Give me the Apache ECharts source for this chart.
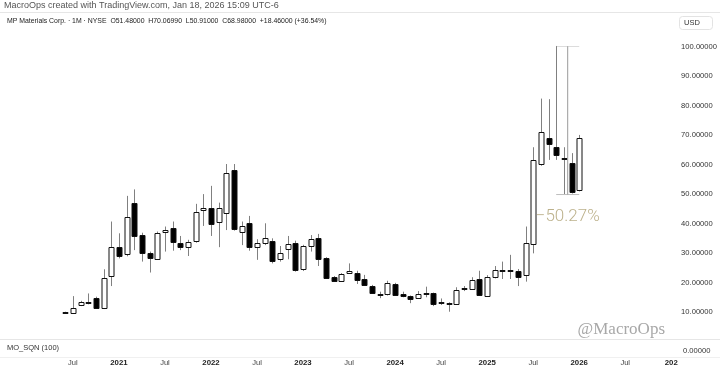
<!DOCTYPE html>
<html><head><meta charset="utf-8">
<script src="https://cdn.jsdelivr.net/npm/echarts@6/dist/echarts.min.js"></script>
<style>html,body{margin:0;padding:0;background:#fff}#c{width:720px;height:373px}</style>
</head><body><div id="c"></div>
<script>
// ---- axis categories (monthly) ----
const categories = [];
for (let y = 2019; y <= 2027; y++) {
  for (let m = 1; m <= 12; m++) {
    const key = y + '-' + String(m).padStart(2, '0');
    if (key >= '2019-10' && key <= '2027-01') categories.push(key);
  }
}
const firstLabelMonth = '2020-07';
// ---- monthly OHLC ----
const candleMonths = ['2020-06','2020-07','2020-08','2020-09','2020-10','2020-11','2020-12',
 '2021-01','2021-02','2021-03','2021-04','2021-05','2021-06','2021-07','2021-08','2021-09','2021-10','2021-11','2021-12',
 '2022-01','2022-02','2022-03','2022-04','2022-05','2022-06','2022-07','2022-08','2022-09','2022-10','2022-11','2022-12',
 '2023-01','2023-02','2023-03','2023-04','2023-05','2023-06','2023-07','2023-08','2023-09','2023-10','2023-11','2023-12',
 '2024-01','2024-02','2024-03','2024-04','2024-05','2024-06','2024-07','2024-08','2024-09','2024-10','2024-11','2024-12',
 '2025-01','2025-02','2025-03','2025-04','2025-05','2025-06','2025-07','2025-08','2025-09','2025-10','2025-11','2025-12',
 '2026-01'];
const openP  = [9.95, 9.9, 12.4, 13.2, 14.7, 11.3, 22.0,
 32.0, 29.7, 46.9, 36.1, 29.9, 28.1, 37.2, 38.4, 33.5, 32.2, 33.9, 44.8,
 45.4, 40.7, 43.7, 58.2, 37.4, 40.1, 32.0, 33.3, 34.1, 27.7, 31.3, 33.3,
 24.5, 32.4, 35.2, 28.4, 21.8, 20.6, 23.1, 23.4, 21.2, 18.9, 16.0, 15.8,
 19.5, 16.0, 15.4, 14.8, 16.2, 16.4, 13.2, 13.1, 12.7, 17.9, 18.0, 21.1,
 15.5, 22.0, 24.2, 24.3, 23.8, 22.6, 33.1, 60.2, 69.0, 65.9, 62.0, 60.5,
 51.48];
const highP  = [10.1, 15.4, 13.8, 16.3, 15.2, 24.5, 40.7,
 36.7, 49.4, 51.6, 36.9, 30.5, 37.3, 39.0, 40.7, 35.8, 34.5, 46.7, 50.0,
 52.8, 47.1, 60.2, 60.2, 40.7, 42.6, 34.7, 40.1, 35.0, 32.4, 35.8, 34.2,
 32.8, 36.1, 36.5, 28.6, 22.2, 23.2, 26.5, 24.0, 22.6, 19.2, 16.9, 20.6,
 19.9, 16.9, 15.6, 17.1, 18.6, 16.6, 14.6, 13.3, 18.4, 18.8, 21.8, 24.0,
 22.5, 25.6, 27.1, 29.4, 24.6, 39.0, 65.9, 82.4, 82.2, 100.25, 65.9, 63.9,
 70.0699];
const lowP   = [9.8, 9.8, 12.0, 12.6, 11.3, 11.0, 18.8,
 28.2, 28.9, 31.0, 27.1, 23.4, 27.8, 30.5, 30.8, 31.0, 29.0, 33.5, 39.2,
 35.8, 32.0, 37.8, 37.6, 32.7, 30.8, 27.7, 32.7, 26.5, 27.1, 27.9, 23.7,
 23.9, 30.5, 25.6, 21.4, 20.3, 20.4, 22.9, 19.5, 18.9, 16.2, 14.7, 15.6,
 15.6, 15.0, 13.0, 14.6, 15.0, 12.0, 12.4, 10.1, 12.5, 17.1, 17.8, 15.5,
 15.3, 21.4, 21.2, 21.2, 18.8, 20.3, 29.9, 59.6, 61.6, 61.6, 49.85, 50.2,
 50.91];
const closeP = [10.0, 11.5, 13.5, 13.4, 11.3, 21.4, 32.0,
 29.0, 42.1, 35.8, 29.9, 28.1, 36.9, 37.8, 33.5, 32.2, 33.9, 43.8, 45.4,
 39.9, 45.4, 57.3, 38.1, 39.3, 32.0, 33.5, 35.0, 27.4, 29.9, 33.1, 24.3,
 32.4, 34.8, 28.2, 21.6, 20.6, 22.9, 23.9, 21.1, 19.1, 16.4, 16.1, 19.7,
 15.8, 15.2, 14.5, 16.0, 16.4, 12.7, 13.4, 13.0, 17.5, 18.1, 20.9, 15.6,
 22.0, 24.3, 24.4, 24.4, 21.8, 33.3, 61.6, 71.2, 67.0, 63.1, 62.3, 50.5,
 68.98];
// ---- price-range drawing (Oct-2025 high to Nov-2025 low) ----
const rangeFrom = '2025-10', rangeTo = '2026-01';
const rangeHigh = 100.25, rangeLow = 49.85;
const rangeLabel = '\u221250.27%';
const rangeLabelPrice = 42.4;
// ---- tick labels ----
const yTicks = [0, 10, 20, 30, 40, 50, 60, 70, 80, 90, 100];

const idx = m => categories.indexOf(m);
const ohlc = candleMonths.map((m, i) => [idx(m), openP[i], closeP[i], lowP[i], highP[i]]);
const iFrom = idx(rangeFrom), iTo = idx(rangeTo);
const iMid = (idx('2025-11') + idx('2025-12')) / 2;

const chart = echarts.init(document.getElementById('c'), null, {renderer: 'canvas'});
const lineStyle = {color: '#9a9a9a', width: 1};
chart.setOption({
  animation: false,
  backgroundColor: '#fff',
  textStyle: {fontFamily: 'Liberation Sans, Arial, sans-serif'},
  grid: {left: 0, right: 43, top: 46.7, bottom: 31.5, containLabel: false},
  xAxis: [{
    type: 'category', data: categories, boundaryGap: true,
    axisLine: {show: false}, axisTick: {show: false}, splitLine: {show: false},
    axisLabel: {
      margin: 17.5, fontSize: 7.5, color: '#333',
      interval: (i, v) => v >= firstLabelMonth && (v.endsWith('-01') || v.endsWith('-07')),
      formatter: v => {
        const y = v.slice(0, 4), m = v.slice(5);
        if (m === '07') return '{j|Jul}';
        return '{y|' + (y === '2027' ? '202' : y) + '}';
      },
      rich: {j: {fontSize: 7.5, color: '#444'}, y: {fontSize: 7.8, fontWeight: 'bold', color: '#222'}}
    }
  }, {
    type: 'value', min: -0.5, max: categories.length - 0.5, show: false
  }],
  yAxis: {
    type: 'value', min: yTicks[0], max: yTicks[yTicks.length - 1], interval: 10, position: 'right',
    axisLine: {show: false}, axisTick: {show: false}, splitLine: {show: false},
    axisLabel: {showMinLabel: false, align: 'left', margin: 6, fontSize: 7.6, color: '#333',
      formatter: v => v.toFixed(5)}
  },
  series: [{
    type: 'custom', xAxisIndex: 1, data: ohlc, clip: false,
    renderItem: function (params, api) {
      const x = api.value(0), o = api.value(1), c = api.value(2), l = api.value(3), h = api.value(4);
      const pO = api.coord([x, o]), pC = api.coord([x, c]), pL = api.coord([x, l]), pH = api.coord([x, h]);
      const bw = Math.round(api.size([1, 0])[0] * 0.68);
      const cx = Math.round(pO[0]) + 0.5;
      const top = Math.min(pO[1], pC[1]), bot = Math.max(pO[1], pC[1]);
      const up = c >= o;
      return {type: 'group', children: [
        {type: 'line', shape: {x1: cx, y1: pH[1], x2: cx, y2: pL[1]}, style: {stroke: '#808080', lineWidth: 1}},
        {type: 'rect', shape: {x: cx - bw / 2, y: Math.round(top) + 0.5, width: bw, height: Math.max(Math.round(bot - top), 1)},
          style: {fill: up ? '#fff' : '#000', stroke: '#111', lineWidth: 1}}
      ]};
    }
  },
  {type: 'line', xAxisIndex: 1, symbol: 'none', silent: true, lineStyle: lineStyle,
    data: [[iFrom, rangeHigh], [iTo, rangeHigh]]},
  {type: 'line', xAxisIndex: 1, symbol: 'none', silent: true, lineStyle: {color: '#bdbdbd', width: 1},
    data: [[iFrom, rangeLow], [iTo, rangeLow]]},
  {type: 'line', xAxisIndex: 1, symbol: 'none', silent: true, lineStyle: lineStyle,
    data: [[iMid, rangeHigh], [iMid, rangeLow]]},
  {type: 'scatter', xAxisIndex: 1, symbolSize: 0, silent: true,
    data: [[iMid, rangeLabelPrice]],
    label: {show: true, position: 'inside', formatter: rangeLabel, color: '#ab9d6e', fontSize: 17,
      fontFamily: 'Roboto', fontWeight: 300}}
  ],
  graphic: [
    {type: 'text', left: 4, top: 1.5, style: {text: 'MacroOps created with TradingView.com, Jan 18, 2026 15:09 UTC-6', fontSize: 9, fill: '#555', fontFamily: 'Liberation Sans, Arial'}},
    {type: 'line', shape: {x1: 0, y1: 12.5, x2: 720, y2: 12.5}, style: {stroke: '#e6e6e6', lineWidth: 1}},
    {type: 'text', left: 7, top: 18, style: {text: 'MP Materials Corp. \u00b7 1M \u00b7 NYSE  O51.48000  H70.06990  L50.91000  C68.98000  +18.46000 (+36.54%)', fontSize: 6.9, fill: '#222', fontFamily: 'Liberation Sans, Arial'}},
    {type: 'rect', shape: {x: 679.5, y: 16.5, width: 33, height: 13, r: 3}, style: {fill: 'none', stroke: '#e3e3e3', lineWidth: 1}},
    {type: 'text', left: 684, top: 19, style: {text: 'USD', fontSize: 7.5, fill: '#333', fontFamily: 'Liberation Sans, Arial'}},
    {type: 'text', right: 55, top: 321, style: {text: '@MacroOps', fontSize: 17, fill: '#a8a8a8', fontFamily: 'Liberation Serif, Times New Roman, serif'}},
    {type: 'line', shape: {x1: 0, y1: 339.5, x2: 720, y2: 339.5}, style: {stroke: '#e6e6e6', lineWidth: 1}},
    {type: 'text', left: 7, top: 344, style: {text: 'MO_SQN (100)', fontSize: 7.5, fill: '#333', fontFamily: 'Liberation Sans, Arial'}},
    {type: 'text', left: 683, top: 347, style: {text: '0.00000', fontSize: 7.6, fill: '#333', fontFamily: 'Liberation Sans, Arial'}},
    {type: 'line', shape: {x1: 0, y1: 357.5, x2: 720, y2: 357.5}, style: {stroke: '#f0f0f0', lineWidth: 1}}
  ]
});
</script></body></html>
